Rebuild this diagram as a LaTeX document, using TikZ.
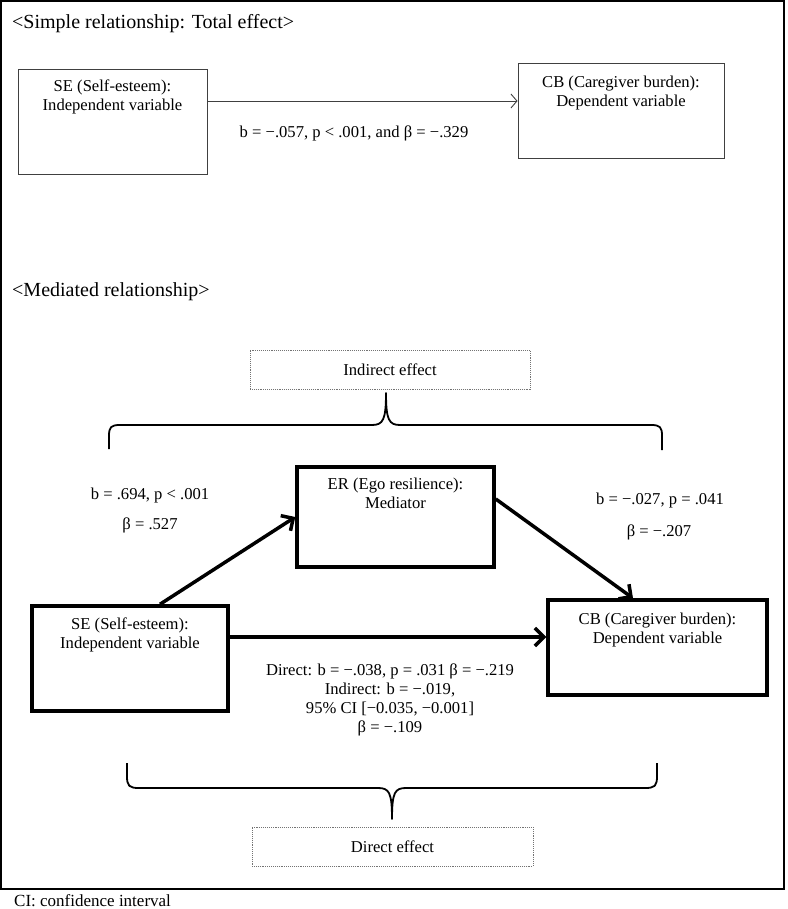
\documentclass[tikz,border=0pt]{standalone}
\usepackage{fontspec}
\setmainfont{Liberation Serif}
\usetikzlibrary{arrows.meta}
\begin{document}
\begin{tikzpicture}[x=1pt,y=-1pt,
  txt/.style={font=\fontsize{16.6}{19}\selectfont, inner sep=0pt, align=center},
  ttl/.style={font=\fontsize{20}{23}\selectfont, inner sep=0pt, anchor=west},
  thinbox/.style={draw=black!75, line width=0.9pt, inner sep=0pt},
  thickbox/.style={draw=black, line width=3.5pt, inner sep=0pt},
  dotbox/.style={draw=black!55, densely dotted, line width=0.9pt, inner sep=0pt, font=\fontsize{16.6}{19}\selectfont},
  thinarrow/.style={draw=black!75, line width=0.9pt, -{Straight Barb[length=6pt,width=14pt]}},
  thickarrow/.style={draw=black, line width=3.5pt, -{Straight Barb[length=9pt,width=18pt]}},
  bracestyle/.style={draw=black, line width=1.8pt, line join=round}
]
\useasboundingbox (0,0) rectangle (787,909);
% outer frame
\draw[line width=2pt] (1,1) rectangle (784,889);

% titles
\node[ttl] (t1) at (12,24) {<Simple relationship: Total effect>};
\node[ttl] (t2) at (12,292) {<Mediated relationship>};
\node[font=\fontsize{17}{20}\selectfont, inner sep=0pt, anchor=base west] (ci) at (14,906) {CI: confidence interval};

% simple relationship
\node[thinbox, minimum width=189pt, minimum height=105pt] (se1) at (112.5,121.5) {};
\node[thinbox, minimum width=206pt, minimum height=95pt] (cb1) at (621,110.5) {};
\node[txt, anchor=north] (se1t) at ([yshift=-11pt]se1.north) {SE (Self-esteem):\\Independent variable};
\node[txt, anchor=north] (cb1t) at ([yshift=-13pt]cb1.north) {CB (Caregiver burden):\\Dependent variable};
\coordinate (a1) at ([yshift=20.5pt]se1.east);
\draw[thinarrow] (a1) -- (a1 -| cb1.west);
\node[txt] (l1) at (354,133) {b = −.057, p < .001, and β = −.329};

% mediated relationship
\node[dotbox, minimum width=280pt, minimum height=39pt] (ind) at (390,369.5) {Indirect effect};
\node[dotbox, minimum width=281pt, minimum height=39pt] (dir) at (392.5,846.5) {Direct effect};

\node[thickbox, minimum width=197pt, minimum height=100pt] (er) at (395.5,517) {};
\node[thickbox, minimum width=196pt, minimum height=105pt] (se2) at (130,658.5) {};
\node[thickbox, minimum width=219pt, minimum height=95pt] (cb2) at (657.5,647.5) {};
\node[txt, anchor=north] (ert) at ([yshift=-13pt]er.north) {ER (Ego resilience):\\Mediator};
\node[txt, anchor=north] (se2t) at ([yshift=-13pt]se2.north) {SE (Self-esteem):\\Independent variable};
\node[txt, anchor=north] (cb2t) at ([yshift=-15pt]cb2.north) {CB (Caregiver burden):\\Dependent variable};

\coordinate (a2) at ([yshift=21.5pt]se2.east);
\draw[thickarrow] (a2) -- (a2 -| cb2.west);
\draw[thickarrow] ([xshift=30pt]se2.north) -- (er.west);
\draw[thickarrow] ([yshift=18pt]er.east) -- ([xshift=-24.5pt]cb2.north);

\node[txt] (l2) at (150,496) {b = .694, p < .001};
\node[txt] (l3) at (150,525) {β = .527};
\node[txt] (l4) at (660,501) {b = −.027, p = .041};
\node[txt] (l5) at (659,532) {β = −.207};
\node[txt, anchor=north] (l6) at (390,664) {Direct: b = −.038, p = .031 β = −.219\\Indirect: b = −.019,\\95\% CI [−0.035, −0.001]\\β = −.109};

% braces
\draw[bracestyle] (109,449) -- (109,436) .. controls (109,427) and (111,425) .. (120,425) -- (372,425) .. controls (383,425) and (386,420) .. (386,393) .. controls (386,420) and (389,425) .. (400,425) -- (651,425) .. controls (660,425) and (662,427) .. (662,436) -- (662,450);
\draw[bracestyle] (127,763) -- (127,776) .. controls (127,786) and (129,788) .. (139,788) -- (378,788) .. controls (389,788) and (392,792) .. (392,819) .. controls (392,792) and (395,788) .. (406,788) -- (645,788) .. controls (655,788) and (657,786) .. (657,776) -- (657,763);
\end{tikzpicture}
\end{document}
